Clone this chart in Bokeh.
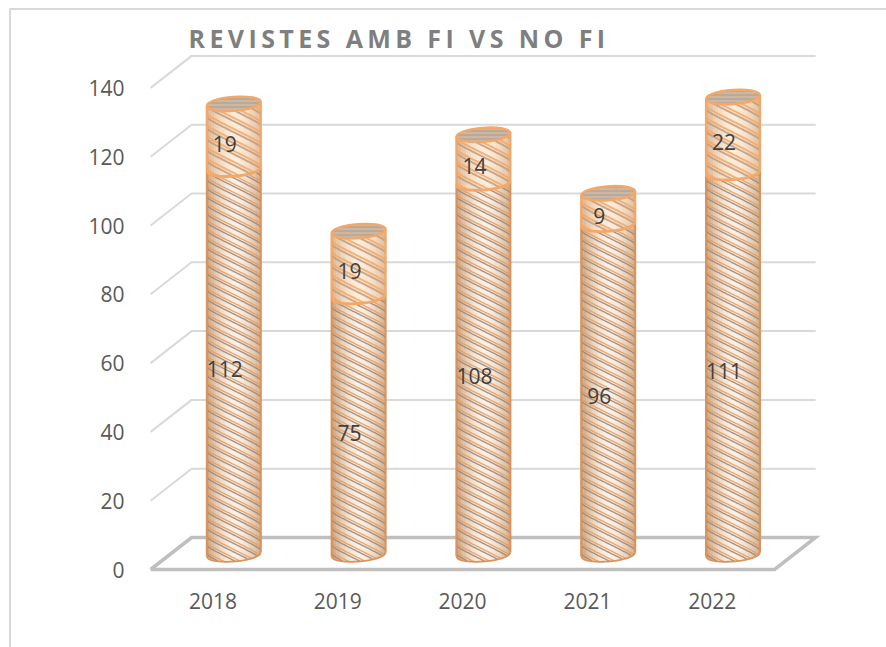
import numpy as np
from bokeh.core.properties import value
from bokeh.embed import file_html
from bokeh.models import FixedTicker, Label, Range1d
from bokeh.plotting import figure
from bokeh.resources import INLINE

# ---- data
years = ["2018", "2019", "2020", "2021", "2022"]
amb_fi = [112, 75, 108, 96, 111]
no_fi = [19, 19, 14, 9, 22]
y_ticks = [0, 20, 40, 60, 80, 100, 120, 140]
title_text = "REVISTES AMB FI VS NO FI"

# ---- layout of the projected scene
W, H = 886, 647
X0, UX = 212.5, 124.8      # image x of category 0, px per category
Y0, UY = 569.0, 3.44       # image y of value 0, px per unit
DEPTH_X, DEPTH_Y = 41.0, 32.0   # px offset of back wall
BAR_DX, BAR_DY = 20.8, 15.0     # px offset of the cylinders' axis
R, EH, TILT = 27.0, 7.0, 2.0    # cylinder radius, ellipse half height, tilt


def xd(px):
    return (np.asarray(px, dtype=float) - X0) / UX


def yd(py):
    return (Y0 - np.asarray(py, dtype=float)) / UY


p = figure(width=W, height=H, x_range=Range1d(float(xd(0)), float(xd(W))),
           y_range=Range1d(float(yd(H)), float(yd(0))),
           output_backend="svg", toolbar_location=None, min_border=0)
p.outline_line_color = None
p.grid.visible = False

# ---- chart border (top and left)
p.line(xd([886, 9.5, 9.5]), yd([8.5, 8.5, 647]), line_color="#d9d9d9", line_width=2)

# ---- walls: gridlines (value coordinates, front-left → back-left → back-right)
xl = -0.5
xr = len(years) - 0.5
dx, dy = DEPTH_X / UX, DEPTH_Y / UY
grid_x = [[xl, xl + dx, xr + dx] for v in y_ticks[1:]]
grid_y = [[v, v + dy, v + dy] for v in y_ticks[1:]]
p.multi_line(grid_x, grid_y, line_color="#d9d9d9", line_width=2)
# floor
p.line([xl, xl + dx, xr + dx, xr, xl], [0, dy, dy, 0, 0], line_color="#bfbfbf", line_width=3.5,
       line_join="miter")

# ---- cylinders
bdx, bdy = BAR_DX / UX, BAR_DY / UY
ru = R / UX
us = np.linspace(-1, 1, 41)


def rim(u, lower=True):
    s = np.sqrt(np.clip(1 - u ** 2, 0, 1))
    return ((-EH * s if lower else EH * s) + u * TILT) / UY


def section(i, v0, v1, edge, shade_edge, shade_mid, c1, c2, period, lw, edge_w):
    cx = i + bdx
    strips_x, strips_y, cols = [], [], []
    n = 22
    c_e = np.array(shade_edge)
    c_m = np.array(shade_mid)
    for k in range(n):
        a, b = -1 + 2 * k / n, -1 + 2 * (k + 1) / n
        m = (a + b) / 2
        t = abs(m - 0.05) ** 1.8
        col = c_m + (c_e - c_m) * min(t, 1)
        aa, bb = np.array([a, b])
        strips_x.append([cx + a * ru, cx + b * ru, cx + b * ru, cx + a * ru])
        strips_y.append([v0 + bdy + rim(aa), v0 + bdy + rim(bb), v1 + bdy + rim(bb), v1 + bdy + rim(aa)])
        cols.append("#%02x%02x%02x" % tuple(int(round(c)) for c in col))
    p.patches(strips_x, strips_y, fill_color=cols, line_color=cols, line_width=0.5)

    # helical hatch: pairs of lines falling to the right, a light band between pairs
    lines_x, lines_y, lines_c = [], [], []
    span = (v1 - v0) * UY + 60
    for j, off in enumerate(np.arange(-40, span, period)):
        for shift, colr in ((0.0, c1), (period * 0.3, c2)):
            drop = 0.5 * R * (0.8 * us + 0.2 * np.arcsin(us))
            yy = v0 + bdy + (off + shift - drop) / UY
            lo = v0 + bdy + rim(us)
            hi = v1 + bdy + rim(us)
            mask = (yy >= lo) & (yy <= hi)
            if mask.sum() < 2:
                continue
            lines_x.append(list((cx + us * ru)[mask]))
            lines_y.append(list(yy[mask]))
            lines_c.append(colr)
    p.multi_line(lines_x, lines_y, line_color=lines_c, line_width=lw, line_alpha=0.85)

    # side edges and lower rim
    p.multi_line([[cx - ru, cx - ru], [cx + ru, cx + ru]],
                 [[v0 + bdy + rim(np.array(-1.0)), v1 + bdy + rim(np.array(-1.0))],
                  [v0 + bdy + rim(np.array(1.0)), v1 + bdy + rim(np.array(1.0))]],
                 line_color=edge, line_width=edge_w)
    p.line(cx + us * ru, v0 + bdy + rim(us), line_color=edge, line_width=2.8 if v0 > 0 else 1.8)


for i, (a, b) in enumerate(zip(amb_fi, no_fi)):
    section(i, 0, a, "#dc9258", (205, 165, 128), (252, 240, 228), "#978679", "#e59d62", 8.5, 1.4, 2)
    section(i, a, a + b, "#f4a766", (220, 182, 146), (253, 236, 218), "#c09c7e", "#f2a868", 11.0, 2.0, 2.2)

tops_x = [i + bdx for i in range(len(years))]
tops_y = [a + b + bdy for a, b in zip(amb_fi, no_fi)]
p.ellipse(tops_x, tops_y, width=2 * R, height=2 * EH, width_units="screen", height_units="screen",
          angle=np.arctan2(TILT, R), fill_color="#c9b8a6", line_color="#f4a766", line_width=2.4,
          hatch_pattern="horizontal_line", hatch_color="#b09a84", hatch_scale=4, hatch_weight=1)

# ---- value labels
lab_font = value("Open Sans")
lx = [i + bdx for i in range(len(years))]
p.text(lx, [a / 2 + bdy for a in amb_fi], text=[str(a) for a in amb_fi], x_offset=-9, y_offset=7,
       text_font=lab_font, text_font_size="21px", text_color="#404040",
       text_align="center", text_baseline="middle")
p.text(lx, [a + b / 2 + bdy for a, b in zip(amb_fi, no_fi)], text=[str(b) for b in no_fi],
       x_offset=-9, y_offset=7, text_font=lab_font, text_font_size="21px", text_color="#404040",
       text_align="center", text_baseline="middle")

# ---- axes
ya = p.yaxis[0]
ya.fixed_location = xl
ya.ticker = FixedTicker(ticks=y_ticks)
ya.axis_line_color = None
ya.major_tick_line_color = None
ya.minor_tick_line_color = None
ya.major_label_standoff = 20
ya.major_label_text_font = "Open Sans"
ya.major_label_text_font_size = "21px"
ya.major_label_text_color = "#595959"

xa = p.xaxis[0]
xa.fixed_location = 0
xa.ticker = FixedTicker(ticks=list(range(len(years))))
xa.major_label_overrides = {i: y for i, y in enumerate(years)}
xa.axis_line_color = None
xa.major_tick_line_color = None
xa.minor_tick_line_color = None
xa.major_label_standoff = 17
xa.major_label_text_font = "Open Sans"
xa.major_label_text_font_size = "21px"
xa.major_label_text_color = "#595959"

# ---- title (letter spacing is set on the svg text once it exists)
p.add_layout(Label(x=float(xd(188)), y=float(yd(37)), text=title_text, text_font="Open Sans",
                   text_font_style="bold", text_font_size="25px", text_color="#7f7f7f",
                   text_baseline="middle", text_align="left"))
spacer = """<script>
(function(){
  var t = %r;
  function walk(n){
    if(n.shadowRoot) walk(n.shadowRoot);
    var kids = n.children || [];
    for(var k=0;k<kids.length;k++){
      var c = kids[k];
      if(c.tagName && c.tagName.toLowerCase()==='text' && c.textContent===t){
        c.setAttribute('letter-spacing','4.4px');
        c.style.letterSpacing='4.4px';
      }
      walk(c);
    }
  }
  var n=0, h=setInterval(function(){ walk(document.body); if(++n>100) clearInterval(h); },50);
})();
</script>""" % title_text

html = file_html(p, INLINE)
html = html.replace("</body>", spacer + "</body>")
open("out.html", "w").write(html)
